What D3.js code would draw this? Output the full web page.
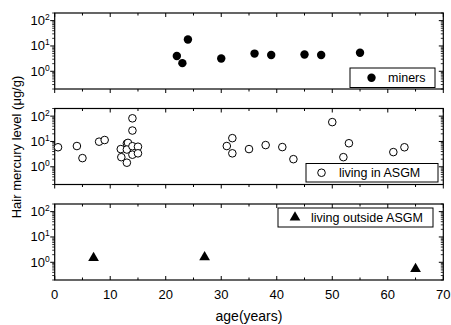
<!DOCTYPE html>
<html><head><meta charset="utf-8">
<script src="https://cdn.jsdelivr.net/npm/d3@7"></script>
<style>body{margin:0;background:#fff}svg{display:block;font-family:"Liberation Sans",Arial,sans-serif}</style>
</head><body><svg id="c" width="451" height="325"></svg>
<script>
const minersAge = [22, 23, 24, 30, 36, 39, 45, 48, 55];
const minersHg  = [4.0, 2.1, 18, 3.2, 5.0, 4.4, 4.6, 4.4, 5.4];
const asgmAge = [0.6, 4, 5, 8, 9, 11.9, 12, 13, 13.2, 13, 13, 14, 14, 14, 14, 15, 15, 31, 32, 32, 35, 38, 41, 43, 50, 52, 53, 61, 63];
const asgmHg  = [5.9, 6.6, 2.2, 9.8, 11.4, 5.0, 2.4, 8.3, 8.8, 4.8, 1.45, 82, 27, 6.5, 3.0, 6.2, 3.4, 6.6, 13.5, 3.4, 5.0, 7.2, 6.0, 2.0, 58, 2.4, 8.5, 3.8, 5.9];
const outAge = [7, 27, 65];
const outHg  = [1.5, 1.6, 0.55];
const xTicks = [0, 10, 20, 30, 40, 50, 60, 70];
const yTickExp = [0, 1, 2];
const legendNames = ["miners", "living in ASGM", "living outside ASGM"];
const xTitle = "age(years)";
const yTitle = "Hair mercury level (\u03bcg/g)";

const svg = d3.select("#c");
const L = 54.7, R = 443.3, panelH = 76;
const tops = [13, 108.5, 204];
const x = d3.scaleLinear().domain([0, 70]).range([L, R]);
const minor = [];
[0.1, 1, 10, 100].forEach(d => { for (let k = 2; k <= 9; k++) { const v = d * k; if (v >= 0.2 && v <= 200) minor.push(v); } });

const panels = [
  {age: minersAge, hg: minersHg, kind: "fill"},
  {age: asgmAge, hg: asgmHg, kind: "open"},
  {age: outAge, hg: outHg, kind: "tri"}
];
const legBoxes = [
  {x: 350, y: 68, w: 85, h: 19.5, mx: 371.5, tx: 388},
  {x: 306, y: 163.5, w: 132, h: 18.5, mx: 321.5, tx: 339},
  {x: 278, y: 208, w: 155, h: 19, mx: 295, tx: 311}
];
const tri = d3.symbol().type(d3.symbolTriangle).size(50);

panels.forEach((p, i) => {
  const top = tops[i], bot = top + panelH;
  const y = d3.scaleLog().domain([0.2, 200]).range([bot, top]);
  const g = svg.append("g");
  minor.forEach(v => {
    g.append("line").attr("x1", L - 2.5).attr("x2", L).attr("y1", y(v)).attr("y2", y(v)).attr("stroke", "#000").attr("stroke-width", 0.8);
    g.append("line").attr("x1", R - 2.5).attr("x2", R).attr("y1", y(v)).attr("y2", y(v)).attr("stroke", "#000").attr("stroke-width", 0.8);
  });
  yTickExp.forEach(e => {
    const v = Math.pow(10, e);
    g.append("line").attr("x1", L - 4.5).attr("x2", L).attr("y1", y(v)).attr("y2", y(v)).attr("stroke", "#000").attr("stroke-width", 1);
    g.append("line").attr("x1", R - 4.5).attr("x2", R).attr("y1", y(v)).attr("y2", y(v)).attr("stroke", "#000").attr("stroke-width", 1);
    const t = g.append("text").attr("x", L - 5).attr("y", y(v) + 4.5).attr("text-anchor", "end").attr("font-size", 13).attr("fill", "#000");
    t.append("tspan").text("10");
    t.append("tspan").attr("font-size", 8.5).attr("dy", -5).text(String(e));
  });
  for (let a = 0; a <= 70; a += 5) {
    const len = a % 10 === 0 ? 4 : 2.5;
    g.append("line").attr("x1", x(a)).attr("x2", x(a)).attr("y1", top).attr("y2", top + len).attr("stroke", "#000").attr("stroke-width", 1);
    if (i < 2) g.append("line").attr("x1", x(a)).attr("x2", x(a)).attr("y1", bot).attr("y2", bot + len).attr("stroke", "#000").attr("stroke-width", 1);
    else g.append("line").attr("x1", x(a)).attr("x2", x(a)).attr("y1", bot).attr("y2", bot - len).attr("stroke", "#000").attr("stroke-width", 1);
  }
  g.append("rect").attr("x", L).attr("y", top).attr("width", R - L).attr("height", panelH).attr("fill", "none").attr("stroke", "#000").attr("stroke-width", 1.2);
  p.age.forEach((a, j) => {
    const cx = x(a), cy = y(p.hg[j]);
    if (p.kind === "fill") g.append("circle").attr("cx", cx).attr("cy", cy).attr("r", 4.2).attr("fill", "#000");
    else if (p.kind === "open") g.append("circle").attr("cx", cx).attr("cy", cy).attr("r", 3.8).attr("fill", "#fff").attr("stroke", "#000").attr("stroke-width", 1);
    else g.append("path").attr("d", tri).attr("transform", `translate(${cx},${cy})`).attr("fill", "#000");
  });
  const lb = legBoxes[i];
  g.append("rect").attr("x", lb.x).attr("y", lb.y).attr("width", lb.w).attr("height", lb.h).attr("fill", "#fff").attr("stroke", "#000").attr("stroke-width", 1);
  const my = lb.y + lb.h / 2;
  if (p.kind === "fill") g.append("circle").attr("cx", lb.mx).attr("cy", my).attr("r", 4.2).attr("fill", "#000");
  else if (p.kind === "open") g.append("circle").attr("cx", lb.mx).attr("cy", my).attr("r", 3.8).attr("fill", "#fff").attr("stroke", "#000");
  else g.append("path").attr("d", tri).attr("transform", `translate(${lb.mx},${my})`).attr("fill", "#000");
  g.append("text").attr("x", lb.tx).attr("y", my + 4.5).attr("font-size", 12.5).attr("fill", "#000").text(legendNames[i]);
  if (i === 2) {
    xTicks.forEach(a => g.append("text").attr("x", x(a)).attr("y", bot + 18.5).attr("text-anchor", "middle").attr("font-size", 13).attr("fill", "#000").text(a));
  }
});
svg.append("text").attr("x", (L + R) / 2).attr("y", 321).attr("text-anchor", "middle").attr("font-size", 14).attr("fill", "#000").text(xTitle);
svg.append("text").attr("transform", "translate(21,147) rotate(-90)").attr("text-anchor", "middle").attr("font-size", 13).attr("fill", "#000").text(yTitle);
</script></body></html>
